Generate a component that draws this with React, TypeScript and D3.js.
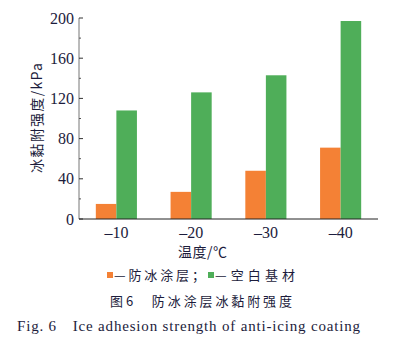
import React from "react";
import * as d3 from "d3";

const categories = ["-10", "-20", "-30", "-40"];
const seriesNames = ["防冰涂层", "空白基材"];
const coatingValues = [15, 27, 48, 71];
const bareValues = [108, 126, 143, 197];
const yTicks = [0, 40, 80, 120, 160, 200];
const yMinorTicks = [20, 60, 100, 140, 180];
const colors = ["#F48135", "#4FAE59"];

const W = 405;
const H = 344;
const margin = { left: 79, right: 27, top: 18, bottom: 125 };

export default function App() {
  const x0 = d3
    .scaleBand<string>()
    .domain(categories)
    .range([margin.left, W - margin.right])
    .paddingInner(0.45)
    .paddingOuter(0.225);
  const x1 = d3.scaleBand<number>().domain([0, 1]).range([0, x0.bandwidth()]).padding(0);
  const y = d3.scaleLinear().domain([0, 200]).range([H - margin.bottom, margin.top]);
  const serif = "'Liberation Serif', 'Times New Roman', serif";
  const cjk = "'Noto Sans CJK SC', sans-serif";
  const series = [coatingValues, bareValues];
  const y0 = y(0);

  return (
    <svg width={W} height={H} style={{ position: "absolute", left: 0, top: 0, background: "#fff" }}>
      {series.map((vals, si) =>
        vals.map((v, i) => (
          <rect
            key={`${si}-${i}`}
            x={(x0(categories[i]) ?? 0) + (x1(si) ?? 0)}
            y={y(v)}
            width={x1.bandwidth()}
            height={y0 - y(v)}
            fill={colors[si]}
          />
        ))
      )}
      {/* y axis */}
      <line x1={margin.left} x2={margin.left} y1={y(200)} y2={y0} stroke="#777" strokeWidth={1} />
      {yTicks.map((t) => (
        <g key={t}>
          <line x1={margin.left} x2={margin.left + 4} y1={y(t)} y2={y(t)} stroke="#333" />
          <text x={margin.left - 5} y={y(t)} dy="0.35em" textAnchor="end" fontFamily={serif} fontSize={16} fill="#1c1c3c">
            {t}
          </text>
        </g>
      ))}
      {yMinorTicks.map((t) => (
        <line key={t} x1={margin.left} x2={margin.left + 2} y1={y(t)} y2={y(t)} stroke="#555" />
      ))}
      {/* x axis */}
      <line x1={margin.left} x2={W - margin.right} y1={y0} y2={y0} stroke="#222" strokeWidth={1} />
      {categories.map((c) => (
        <text
          key={c}
          x={(x0(c) ?? 0) + x0.bandwidth() / 2}
          y={238}
          textAnchor="middle"
          fontFamily={serif}
          fontSize={16}
          fill="#1c1c3c"
        >
          {c.replace("-", "–")}
        </text>
      ))}
      <text x={178} y={257} fontFamily={cjk} fontSize={14} fill="#1c1c3c" textLength={49} lengthAdjust="spacing">
        温度/℃
      </text>
      <text
        transform={`translate(42,173) rotate(-90)`}
        fontFamily={cjk}
        fontSize={14}
        fill="#1c1c3c"
        textLength={110}
        lengthAdjust="spacing"
      >
        冰黏附强度/kPa
      </text>
      {/* legend */}
      <rect x={107} y={272} width={6} height={6} fill={colors[0]} />
      <text x={114} y={280} fontFamily={cjk} fontSize={13} fill="#1c1c3c" textLength={91} lengthAdjust="spacing">
        —{seriesNames[0]}；
      </text>
      <rect x={208} y={272} width={6} height={6} fill={colors[1]} />
      <text x={215} y={280} fontFamily={cjk} fontSize={13} fill="#1c1c3c" textLength={80} lengthAdjust="spacing">
        —{seriesNames[1]}
      </text>
      <text x={110} y={306} fontFamily={cjk} fontSize={13} fill="#1c1c3c" textLength={182} lengthAdjust="spacing">
        图6　防冰涂层冰黏附强度
      </text>
      <text x={17} y={331} fontFamily={serif} fontSize={15} fill="#1c1c3c" textLength={343} lengthAdjust="spacing">
        Fig. 6　Ice adhesion strength of anti‑icing coating
      </text>
    </svg>
  );
}
